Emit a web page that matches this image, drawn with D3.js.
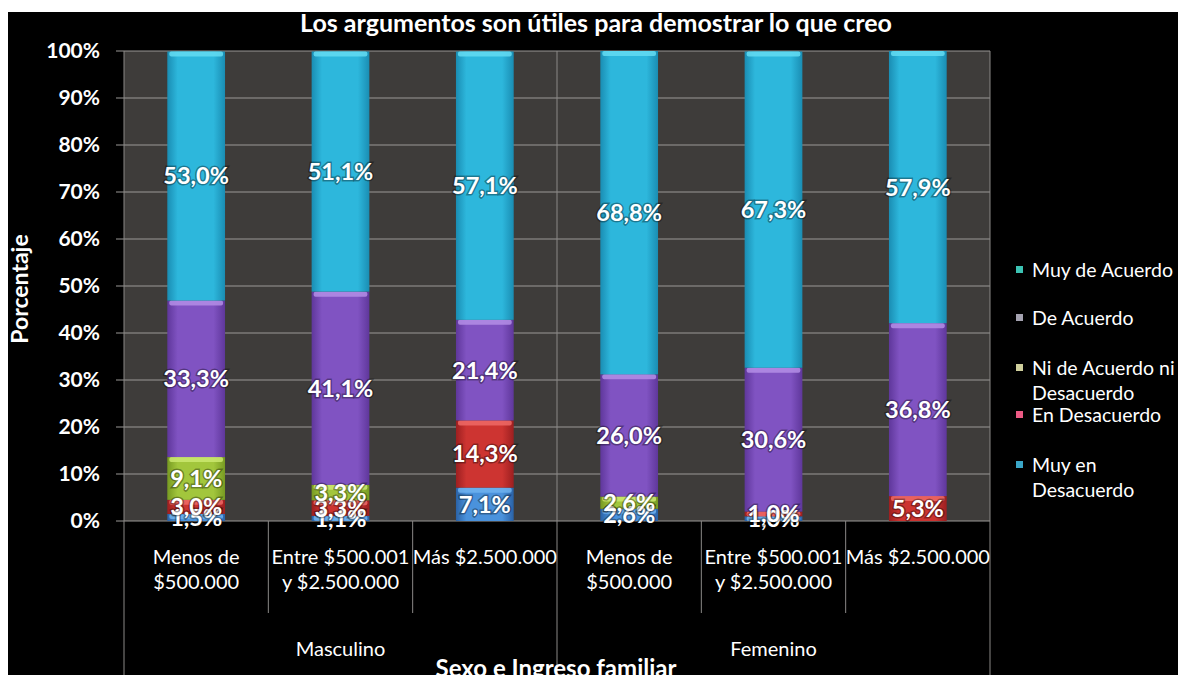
<!DOCTYPE html>
<html>
<head>
<meta charset="utf-8">
<script src="https://cdn.jsdelivr.net/npm/d3@7"></script>
<style>
  body { margin: 0; background: #fff; }
  text { font-family: Lato, "Open Sans", sans-serif; }
</style>
</head>
<body>
<div id="chart"></div>
<script>
// data
var subLabels = [["Menos de", "$500.000"], ["Entre $500.001", "y $2.500.000"], ["Más $2.500.000"],
                 ["Menos de", "$500.000"], ["Entre $500.001", "y $2.500.000"], ["Más $2.500.000"]];
var groups = ["Masculino", "Femenino"];
var seriesNames = ["Muy en Desacuerdo", "En Desacuerdo", "Ni de Acuerdo ni Desacuerdo", "De Acuerdo", "Muy de Acuerdo"];
var muyEnDesacuerdo = [1.5, 1.1, 7.1, 2.6, 1.0, 0];
var enDesacuerdo    = [3.0, 3.3, 14.3, 0, 1.0, 5.3];
var niNi            = [9.1, 3.3, 0, 2.6, 0, 0];
var deAcuerdo       = [33.3, 41.1, 21.4, 26.0, 30.6, 36.8];
var muyDeAcuerdo    = [53.0, 51.1, 57.1, 68.8, 67.3, 57.9];
var yTicks = [0, 10, 20, 30, 40, 50, 60, 70, 80, 90, 100];

var seriesValues = [muyEnDesacuerdo, enDesacuerdo, niNi, deAcuerdo, muyDeAcuerdo];
var colors = {
    "Muy en Desacuerdo": ["#2a62a6", "#4a92dc", "#6fb2ee"],
    "En Desacuerdo": ["#9c1f20", "#cd3431", "#ee6a66"],
    "Ni de Acuerdo ni Desacuerdo": ["#779a22", "#a2c63c", "#cbe870"],
    "De Acuerdo": ["#5f379b", "#8053c2", "#b48ee6"],
    "Muy de Acuerdo": ["#1a8db3", "#2db7dc", "#64dcf2"]
};
var legendColors = {
    "Muy de Acuerdo": "#3cc3b4",
    "De Acuerdo": "#a4a2b0",
    "Ni de Acuerdo ni Desacuerdo": "#cfcf9c",
    "En Desacuerdo": "#ec5a84",
    "Muy en Desacuerdo": "#3aa6c8"
};
var legendLines = {
    "Muy de Acuerdo": ["Muy de Acuerdo"],
    "De Acuerdo": ["De Acuerdo"],
    "Ni de Acuerdo ni Desacuerdo": ["Ni de Acuerdo ni", "Desacuerdo"],
    "En Desacuerdo": ["En Desacuerdo"],
    "Muy en Desacuerdo": ["Muy en", "Desacuerdo"]
};

var width = 1178, height = 675;
var plotLeft = 124, plotRight = 990, plotTop = 51, plotBottom = 521;

var svg = d3.select("#chart").append("svg").attr("width", width).attr("height", height);

// white frame + black chart area
svg.append("rect").attr("width", width).attr("height", height).attr("fill", "#fff");
svg.append("rect").attr("x", 8).attr("y", 12).attr("width", width - 8).attr("height", height - 12).attr("fill", "#000");

var defs = svg.append("defs");
seriesNames.forEach(function (s, i) {
    var g = defs.append("linearGradient").attr("id", "grad" + i).attr("x1", "0").attr("x2", "1").attr("y1", "0").attr("y2", "0");
    g.append("stop").attr("offset", "0%").attr("stop-color", colors[s][0]);
    g.append("stop").attr("offset", "18%").attr("stop-color", colors[s][1]);
    g.append("stop").attr("offset", "80%").attr("stop-color", colors[s][1]);
    g.append("stop").attr("offset", "100%").attr("stop-color", colors[s][0]);
});

// plot background
svg.append("rect").attr("x", plotLeft).attr("y", plotTop).attr("width", plotRight - plotLeft).attr("height", plotBottom - plotTop).attr("fill", "#3e3c3a");

var x = d3.scaleBand().domain(d3.range(subLabels.length)).range([plotLeft, plotRight]).paddingInner(0.6).paddingOuter(0.3);
var y = d3.scaleLinear().domain([0, 100]).range([plotBottom, plotTop]);

// gridlines
svg.append("g").selectAll("line").data(yTicks).enter().append("line")
    .attr("x1", plotLeft - 8).attr("x2", plotRight)
    .attr("y1", function (d) { return y(d); }).attr("y2", function (d) { return y(d); })
    .attr("stroke", "#9a9896").attr("stroke-width", 1);

// y axis
var yAxis = d3.axisLeft(y).tickValues(yTicks).tickFormat(function (d) { return d + "%"; }).tickSize(0).tickPadding(24);
var ya = svg.append("g").attr("transform", "translate(" + plotLeft + ",0)").call(yAxis);
ya.select(".domain").remove();
ya.selectAll("text").attr("fill", "#fff").style("font-size", "21px").style("font-weight", "bold").style("font-family", "Lato, sans-serif");

// stacked bars
var rows = subLabels.map(function (l, i) {
    var r = { idx: i };
    seriesNames.forEach(function (s, j) { r[s] = seriesValues[j][i]; });
    return r;
});
var stacked = d3.stack().keys(seriesNames)(rows);
function nonZero(d) { return d.filter(function (p) { return p[1] - p[0] > 0; }); }

var layers = svg.append("g").selectAll("g").data(stacked).enter().append("g");
layers.selectAll("rect.seg").data(nonZero)
    .enter().append("rect").attr("class", "seg")
    .attr("x", function (d) { return x(d.data.idx); })
    .attr("width", x.bandwidth())
    .attr("y", function (d) { return y(d[1]); })
    .attr("height", function (d) { return y(d[0]) - y(d[1]); })
    .attr("fill", function () { return "url(#grad" + seriesNames.indexOf(d3.select(this.parentNode).datum().key) + ")"; });

// light rim on top of each segment
layers.selectAll("rect.rim").data(nonZero)
    .enter().append("rect").attr("class", "rim")
    .attr("x", function (d) { return x(d.data.idx) + 2; })
    .attr("width", x.bandwidth() - 4)
    .attr("y", function (d) { return y(d[1]); })
    .attr("height", function (d) { return Math.min(5, y(d[0]) - y(d[1])); })
    .attr("rx", 2)
    .attr("fill", function () { return colors[d3.select(this.parentNode).datum().key][2]; })
    .attr("opacity", 0.85);

// data labels
var labelsG = svg.append("g").selectAll("g").data(stacked).enter().append("g");
labelsG.selectAll("text").data(nonZero)
    .enter().append("text")
    .attr("x", function (d) { return x(d.data.idx) + x.bandwidth() / 2; })
    .attr("y", function (d) { return y((d[0] + d[1]) / 2); })
    .attr("dy", "0.36em")
    .attr("text-anchor", "middle")
    .attr("fill", "#fff")
    .attr("stroke", "rgba(0,0,0,0.35)").attr("stroke-width", 3).attr("paint-order", "stroke")
    .style("font-size", "23.5px").style("font-weight", "bold")
    .text(function (d) { return (d[1] - d[0]).toFixed(1).replace(".", ",") + "%"; });

// category separators below the axis
var step = x.step();
var seps = d3.range(subLabels.length + 1);
svg.append("g").selectAll("line").data(seps).enter().append("line")
    .attr("x1", function (d) { return plotLeft + d * step; }).attr("x2", function (d) { return plotLeft + d * step; })
    .attr("y1", function (d) { return d % 3 === 0 ? plotTop : plotBottom; })
    .attr("y2", function (d) { return d % 3 === 0 ? height : 613; })
    .attr("stroke", "#8a8886").attr("stroke-width", 1);

// sub category labels
var sl = svg.append("g").selectAll("text").data(subLabels).enter().append("text")
    .attr("x", function (d, i) { return x(i) + x.bandwidth() / 2; })
    .attr("y", 564)
    .attr("text-anchor", "middle").attr("fill", "#fff")
    .style("font-size", "20px");
sl.selectAll("tspan").data(function (d) { return d; }).enter().append("tspan")
    .attr("x", function () { return d3.select(this.parentNode).attr("x"); })
    .attr("dy", function (d, i) { return i === 0 ? 0 : 25; })
    .text(function (d) { return d; });

// group labels
svg.append("g").selectAll("text").data(groups).enter().append("text")
    .attr("x", function (d, i) { return plotLeft + (i * 3 + 1.5) * step; })
    .attr("y", 656)
    .attr("text-anchor", "middle").attr("fill", "#fff")
    .style("font-size", "20px")
    .text(function (d) { return d; });

// titles
svg.append("text").attr("x", 596).attr("y", 32).attr("text-anchor", "middle").attr("fill", "#fff")
    .style("font-size", "25px").style("font-weight", "bold")
    .text("Los argumentos son útiles para demostrar lo que creo");
svg.append("text").attr("x", 556).attr("y", 677).attr("text-anchor", "middle").attr("fill", "#fff")
    .style("font-size", "24px").style("font-weight", "bold")
    .text("Sexo e Ingreso familiar");
svg.append("text").attr("transform", "translate(28,289) rotate(-90)").attr("text-anchor", "middle").attr("fill", "#fff")
    .style("font-size", "23px").style("font-weight", "bold")
    .text("Porcentaje");

// legend
var legendOrder = ["Muy de Acuerdo", "De Acuerdo", "Ni de Acuerdo ni Desacuerdo", "En Desacuerdo", "Muy en Desacuerdo"];
var legendY = [270, 318, 368, 415, 465];
var lg = svg.append("g").selectAll("g").data(legendOrder).enter().append("g")
    .attr("transform", function (d, i) { return "translate(1016," + legendY[i] + ")"; });
lg.append("rect").attr("x", 0).attr("y", -4).attr("width", 7).attr("height", 7)
    .attr("fill", function (d) { return legendColors[d]; });
lg.append("text").attr("x", 16).attr("y", 0).attr("fill", "#fff").style("font-size", "19.5px")
    .selectAll("tspan").data(function (d) { return legendLines[d]; }).enter().append("tspan")
    .attr("x", 16).attr("dy", function (d, i) { return i === 0 ? "0.35em" : "25px"; })
    .text(function (d) { return d; });
</script>
</body>
</html>
